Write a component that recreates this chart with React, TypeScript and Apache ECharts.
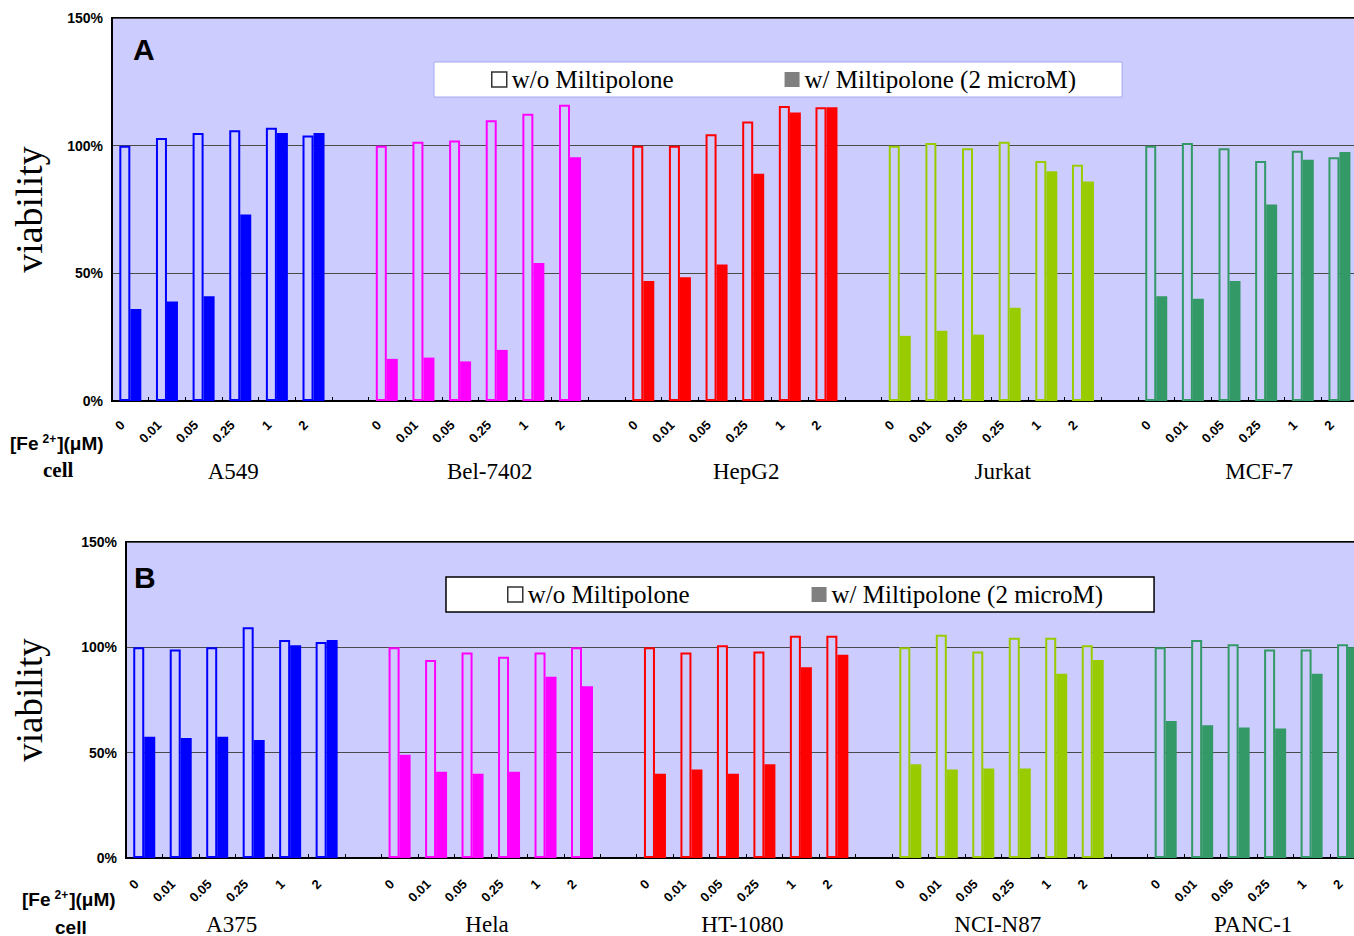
import React, { useEffect, useRef } from 'react';
import * as echarts from 'echarts';

// ---------- data ----------
const concentrations = ['0', '0.01', '0.05', '0.25', '1', '2'];
const cellsA = ['A549', 'Bel-7402', 'HepG2', 'Jurkat', 'MCF-7'];
const cellsB = ['A375', 'Hela', 'HT-1080', 'NCI-N87', 'PANC-1'];
const cellColors = ['#0000FF', '#FF00FF', '#FF0000', '#99CC00', '#339966'];
const yTicks = [0, 50, 100, 150];
const seriesNames = ['w/o Miltipolone', 'w/ Miltipolone (2 microM)'];

// Panel A – viability (%)
const A549_without = [100, 103, 105, 106, 107, 104];
const A549_with = [36, 39, 41, 73, 105, 105];
const Bel7402_without = [100, 101.5, 102, 110, 112.5, 116];
const Bel7402_with = [16.5, 17, 15.5, 20, 54, 95.5];
const HepG2_without = [100, 100, 104.5, 109.5, 115.5, 115];
const HepG2_with = [47, 48.5, 53.5, 89, 113, 115];
const Jurkat_without = [100, 101, 99, 101.5, 94, 92.5];
const Jurkat_with = [25.5, 27.5, 26, 36.5, 90, 86];
const MCF7_without = [100, 101, 99, 94, 98, 95.5];
const MCF7_with = [41, 40, 47, 77, 94.5, 97.5];

// Panel B – viability (%)
const A375_without = [100, 99, 100, 109.5, 103.5, 102.5];
const A375_with = [57.5, 57, 57.5, 56, 101, 103.5];
const Hela_without = [100, 94, 97.5, 95.5, 97.5, 100];
const Hela_with = [49, 41, 40, 41, 86, 81.5];
const HT1080_without = [100, 97.5, 101, 98, 105.5, 105.5];
const HT1080_with = [40, 42, 40, 44.5, 90.5, 96.5];
const NCIN87_without = [100, 106, 98, 104.5, 104.5, 101];
const NCIN87_with = [44.5, 42, 42.5, 42.5, 87.5, 94];
const PANC1_without = [100, 103.5, 101.5, 99, 99, 101.5];
const PANC1_with = [65, 63, 62, 61.5, 87.5, 100];

const withoutA = [A549_without, Bel7402_without, HepG2_without, Jurkat_without, MCF7_without];
const withA = [A549_with, Bel7402_with, HepG2_with, Jurkat_with, MCF7_with];
const withoutB = [A375_without, Hela_without, HT1080_without, NCIN87_without, PANC1_without];
const withB = [A375_with, Hela_with, HT1080_with, NCIN87_with, PANC1_with];

// ---------- styling ----------
const BG = '#CCCCFF';
const SANS = 'Liberation Sans, Arial, sans-serif';
const SERIF = 'Liberation Serif, Times New Roman, serif';
const CANVAS_W = 1420;

function buildCategories(cells: string[]) {
  const cats: string[] = [];
  cells.forEach((c) => {
    concentrations.forEach((k) => cats.push(c + '|' + k));
    cats.push(c + '|');
  });
  return cats;
}

function buildData(groups: number[][], filled: boolean) {
  const data: any[] = [];
  groups.forEach((vals, g) => {
    vals.forEach((v) =>
      data.push({
        value: v,
        itemStyle: filled
          ? { color: cellColors[g], borderWidth: 0 }
          : { color: BG, borderColor: cellColors[g], borderWidth: 2 },
      })
    );
    data.push('-');
  });
  return data;
}

type PanelCfg = {
  left: number;
  top: number;
  catW: number;
  height: number;
  cells: string[];
  without: number[][];
  withM: number[][];
  nameGap: number;
  nameSize: number;
  labelMargin: number;
  cellOffset: number;
  cellShift: number;
};

function App() {
  const ref = useRef<HTMLDivElement>(null);

  useEffect(() => {
    if (!ref.current) return;
    const chart = echarts.init(ref.current, undefined, { renderer: 'svg' });

    const panels: PanelCfg[] = [
      {
        left: 112, top: 18, catW: 36.64, height: 383, cells: cellsA,
        without: withoutA, withM: withA, nameGap: 64, nameSize: 38,
        labelMargin: 14, cellOffset: 59, cellShift: 14,
      },
      {
        left: 126, top: 542, catW: 36.48, height: 319, cells: cellsB,
        without: withoutB, withM: withB, nameGap: 78, nameSize: 37,
        labelMargin: 16, cellOffset: 55, cellShift: 44,
      },
    ];

    const grid: any[] = [];
    const xAxis: any[] = [];
    const yAxis: any[] = [];
    const series: any[] = [];

    panels.forEach((p, i) => {
      const cats = buildCategories(p.cells);
      grid.push({
        left: p.left,
        top: p.top,
        width: p.catW * cats.length,
        height: p.height,
        show: true,
        backgroundColor: BG,
        borderColor: '#000',
        borderWidth: 2,
      });
      xAxis.push({
        gridIndex: i,
        type: 'category',
        data: cats,
        axisLine: { lineStyle: { color: '#000', width: 2 } },
        axisTick: { show: true, inside: true, length: 4, interval: 0, lineStyle: { color: '#000', width: 1 } },
        axisLabel: {
          interval: 0,
          rotate: 45,
          formatter: (v: string) => v.split('|')[1],
          fontFamily: SANS,
          fontWeight: 'bold',
          fontSize: 13,
          color: '#000',
          margin: p.labelMargin,
          padding: [0, 11, 0, 0],
        },
        splitLine: { show: false },
      });
      xAxis.push({
        gridIndex: i,
        type: 'category',
        data: p.cells,
        position: 'bottom',
        offset: p.cellOffset,
        axisLine: { show: false },
        axisTick: { show: false },
        splitLine: { show: false },
        axisLabel: {
          interval: 0,
          fontFamily: SERIF,
          fontSize: 23,
          color: '#000',
          margin: 0,
          padding: [0, p.cellShift, 0, 0],
        },
      });
      yAxis.push({
        gridIndex: i,
        type: 'value',
        min: yTicks[0],
        max: yTicks[yTicks.length - 1],
        interval: yTicks[1] - yTicks[0],
        axisLine: { show: true, lineStyle: { color: '#000', width: 2 } },
        axisTick: { show: false },
        splitLine: { show: true, lineStyle: { color: '#4a4a4a', width: 1 } },
        axisLabel: {
          formatter: '{value}%',
          fontFamily: SANS,
          fontWeight: 'bold',
          fontSize: 14,
          color: '#000',
          margin: 9,
        },
        name: 'viability',
        nameLocation: 'middle',
        nameGap: p.nameGap,
        nameTextStyle: { fontFamily: SERIF, fontSize: p.nameSize, color: '#000' },
      });
      series.push({
        type: 'bar',
        name: seriesNames[0],
        xAxisIndex: i * 2,
        yAxisIndex: i,
        barWidth: 11,
        barGap: '0%',
        data: buildData(p.without, false),
      });
      series.push({
        type: 'bar',
        name: seriesNames[1],
        xAxisIndex: i * 2,
        yAxisIndex: i,
        barWidth: 11,
        barGap: '0%',
        data: buildData(p.withM, true),
      });
    });

    const legendData = [
      { name: seriesNames[0], icon: 'rect', itemStyle: { color: '#fff', borderColor: '#333', borderWidth: 1.5 } },
      { name: seriesNames[1], icon: 'rect', itemStyle: { color: '#808080', borderWidth: 0 } },
    ];

    const legend = [
      {
        left: 434, top: 62, orient: 'horizontal', selectedMode: false,
        data: legendData, itemWidth: 15, itemHeight: 15, itemGap: 111,
        padding: [5, 46, 5, 57], backgroundColor: '#fff',
        borderColor: '#A8A8F0', borderWidth: 1,
        textStyle: { fontFamily: SERIF, fontSize: 25, color: '#000' },
      },
      {
        left: 446, top: 577, orient: 'horizontal', selectedMode: false,
        data: legendData, itemWidth: 15, itemHeight: 15, itemGap: 122,
        padding: [5, 51, 5, 61], backgroundColor: '#fff',
        borderColor: '#000', borderWidth: 1.5,
        textStyle: { fontFamily: SERIF, fontSize: 25, color: '#000' },
      },
    ];

    const feText = (x: number, y: number) => ({
      type: 'text',
      x,
      y,
      style: {
        text: '{a|[Fe}{s|2+}{a|](μM)}',
        verticalAlign: 'middle',
        rich: {
          a: { fontSize: 19, fontWeight: 'bold', fontFamily: SANS, fill: '#000', lineHeight: 21 },
          s: { fontSize: 12, fontWeight: 'bold', fontFamily: SANS, fill: '#000', lineHeight: 21, verticalAlign: 'top', padding: [0, 1, 0, 4] },
        },
      },
    });

    const graphic = [
      { type: 'text', x: 133, y: 49, style: { text: 'A', fontSize: 30, fontWeight: 'bold', fontFamily: SANS, fill: '#000', verticalAlign: 'middle' } },
      { type: 'text', x: 134, y: 577, style: { text: 'B', fontSize: 30, fontWeight: 'bold', fontFamily: SANS, fill: '#000', verticalAlign: 'middle' } },
      feText(10, 443),
      feText(22, 899),
      { type: 'text', x: 43, y: 470, style: { text: 'cell', fontSize: 21, fontWeight: 'bold', fontFamily: SERIF, fill: '#000', verticalAlign: 'middle' } },
      { type: 'text', x: 55, y: 927, style: { text: 'cell', fontSize: 19, fontWeight: 'bold', fontFamily: SANS, fill: '#000', verticalAlign: 'middle' } },
    ];

    chart.setOption({
      animation: false,
      backgroundColor: '#fff',
      grid,
      xAxis,
      yAxis,
      series,
      legend,
      graphic,
    });

    return () => chart.dispose();
  }, []);

  return (
    <div style={{ position: 'absolute', left: 0, top: 0, width: 1354, height: 936, overflow: 'hidden' }}>
      <div ref={ref} style={{ width: CANVAS_W, height: 936 }} />
    </div>
  );
}

export default App;
